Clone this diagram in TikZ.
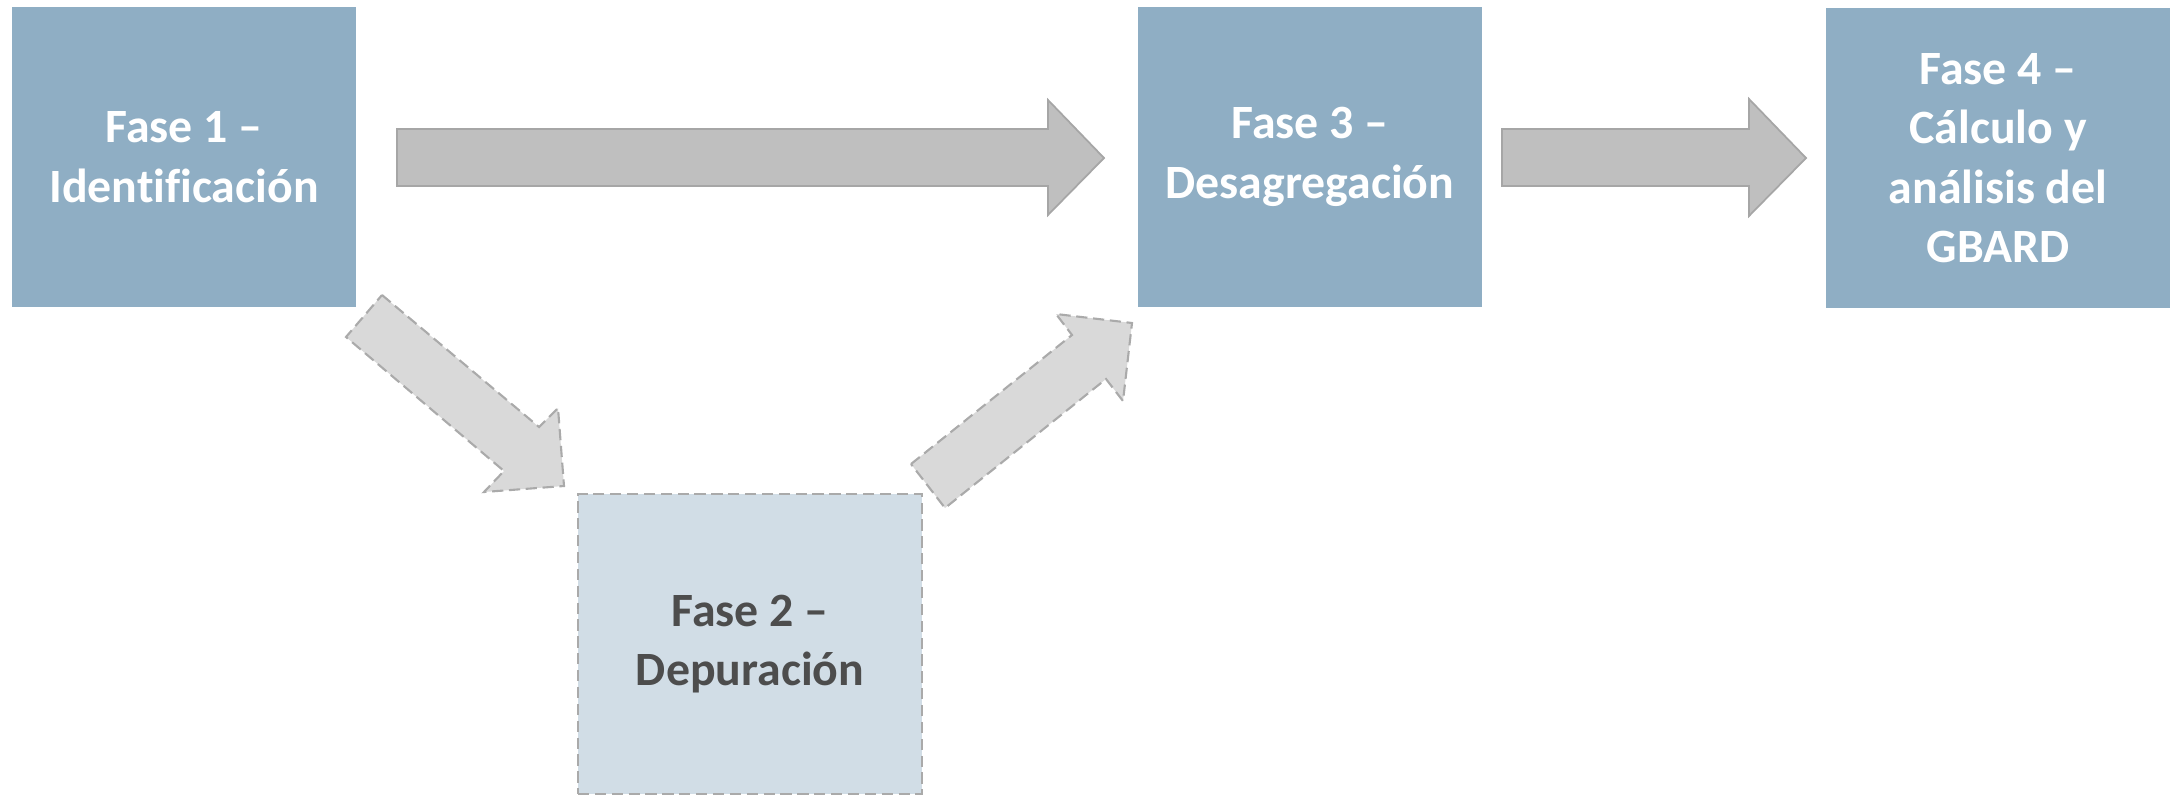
\documentclass[tikz,border=0pt]{standalone}
\usepackage{fontspec}
\setmainfont{Carlito}[Ligatures=NoCommon]
\begin{document}
\begin{tikzpicture}[x=0.1mm,y=-0.1mm,
  phase/.style={draw=none, fill=phaseblue, text=white, minimum width=34.4mm, minimum height=30mm, inner sep=0pt, align=center, font=\fontsize{13.6}{16.9}\selectfont\bfseries},
  phaselight/.style={draw=dashgray, line width=0.6pt, dash pattern=on 3.2pt off 1.6pt, fill=lightblue, text=darktext, minimum width=34.4mm, minimum height=30mm, inner sep=0pt, align=center, font=\fontsize{13.6}{16.9}\selectfont\bfseries},
  blockarrow/.style={fill=arrowgray, draw=arrowedge, line width=0.5pt, line join=miter},
  dasharrow/.style={fill=dashfill, draw=dashgray, line width=0.6pt, dash pattern=on 3.2pt off 1.6pt, line join=miter}]
\definecolor{phaseblue}{RGB}{143,174,196}
\definecolor{lightblue}{RGB}{209,221,230}
\definecolor{darktext}{RGB}{77,77,77}
\definecolor{arrowgray}{RGB}{191,191,191}
\definecolor{arrowedge}{RGB}{166,166,166}
\definecolor{dashfill}{RGB}{217,217,217}
\definecolor{dashgray}{RGB}{170,170,170}
\useasboundingbox (0,0) rectangle (2175,796);
\node[phase] (f1) at (184,157) {Fase 1 --\\Identificación};
\node[phaselight] (f2) at (750,644) {Fase 2 --\\Depuración};
\node[phase] (f3) at (1310,157) {Fase 3 --\\Desagregación};
\node[phase] (f4) at (1998,158) {Fase 4 --\\Cálculo y\\análisis del\\GBARD};
% horizontal block arrows
\draw[blockarrow] (397,129) -- (1048,129) -- (1048,100) -- (1104,158) -- (1048,215) -- (1048,186) -- (397,186) -- cycle;
\draw[blockarrow] (1502,129) -- (1749,129) -- (1749,99) -- (1806,158) -- (1749,216) -- (1749,186) -- (1502,186) -- cycle;
% dashed diagonal arrows
\draw[dasharrow] (382,295) -- (539,427) -- (558,408) -- (564,486) -- (484,492) -- (504,471) -- (346,337) -- cycle;
\draw[dasharrow] (911,464) -- (1072,335) -- (1056,314) -- (1132,323) -- (1123,401) -- (1106,379) -- (945,508) -- cycle;
\end{tikzpicture}
\end{document}
